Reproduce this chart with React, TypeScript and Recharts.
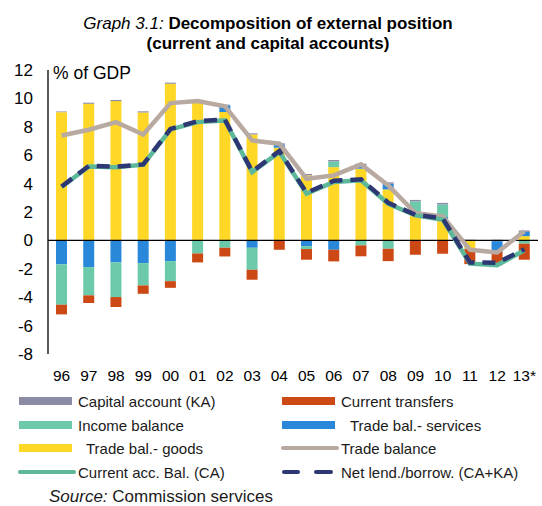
import React from "react";
import { ComposedChart, Bar, Line, XAxis, YAxis, ReferenceLine } from "recharts";

const years = ["96", "97", "98", "99", "00", "01", "02", "03", "04", "05", "06", "07", "08", "09", "10", "11", "12", "13*"];
const tradeGoods = [9.03, 9.62, 9.81, 9.01, 11.03, 9.8, 9.04, 7.46, 6.53, 4.58, 5.16, 5.05, 3.59, 1.83, 1.53, -0.58, -0.05, 0.3];
const tradeServices = [-1.69, -1.88, -1.55, -1.6, -1.46, -0.03, 0.47, -0.52, 0.23, -0.4, -0.66, 0.25, 0.4, 0.05, 0.12, -0.03, -0.75, 0.3];
const incomeBalance = [-2.84, -1.99, -2.44, -1.57, -1.41, -0.89, -0.52, -1.55, 0, -0.21, 0.4, -0.35, -0.59, 0.87, 0.89, 0, 0, -0.23];
const currentTransfers = [-0.68, -0.54, -0.7, -0.59, -0.47, -0.63, -0.61, -0.7, -0.66, -0.75, -0.82, -0.77, -0.87, -1.01, -0.94, -1.06, -0.94, -1.13];
const capitalAccount = [0.05, 0.08, 0.08, 0.08, 0.08, 0.05, 0.05, 0.08, 0.08, 0.1, 0.1, 0.1, 0.1, 0.1, 0.1, 0.05, 0.05, 0.1];
const tradeBalance = [7.39, 7.79, 8.33, 7.46, 9.67, 9.81, 9.45, 7.04, 6.81, 4.34, 4.58, 5.35, 3.87, 1.92, 1.69, -0.66, -0.85, 0.65];
const currentAccount = [3.76, 5.21, 5.16, 5.33, 7.82, 8.33, 8.45, 4.81, 6.22, 3.29, 4.11, 4.23, 2.58, 1.76, 1.46, -1.64, -1.74, -0.7];
const netLending = [3.8, 5.25, 5.2, 5.35, 7.85, 8.4, 8.5, 4.85, 6.3, 3.35, 4.2, 4.3, 2.65, 1.8, 1.55, -1.55, -1.58, -0.62];
const yTicks = [-8, -6, -4, -2, 0, 2, 4, 6, 8, 10, 12];

const data = years.map((cat, i) => ({
  cat,
  goods: tradeGoods[i],
  services: tradeServices[i],
  income: incomeBalance[i],
  transfers: currentTransfers[i],
  ka: capitalAccount[i],
  tb: tradeBalance[i],
  ca: currentAccount[i],
  nl: netLending[i],
}));

const FONT = "'Liberation Sans', Arial, sans-serif";
const C = {
  ka: "#8B8BA5",
  transfers: "#CC4814",
  income: "#6CC9AA",
  services: "#2A88DA",
  goods: "#FFD726",
  tb: "#B8AAA1",
  ca: "#5DB89A",
  nl: "#2C3774",
};

function BarIcon({ color }: { color: string }) {
  return (
    <svg width={56} height={10} style={{ display: "block" }}>
      <rect x={1} y={1} width={53} height={8} fill={color} />
    </svg>
  );
}

function LineIcon({ color, dashed }: { color: string; dashed?: boolean }) {
  return (
    <svg width={60} height={10} style={{ display: "block" }}>
      {dashed ? (
        <>
          <line x1={3} y1={5} x2={17} y2={5} stroke={color} strokeWidth={4} strokeLinecap="round" />
          <line x1={35} y1={5} x2={50} y2={5} stroke={color} strokeWidth={4} strokeLinecap="round" />
        </>
      ) : (
        <line x1={2} y1={5} x2={56} y2={5} stroke={color} strokeWidth={4} strokeLinecap="round" />
      )}
    </svg>
  );
}

function LegendItem({ x, y, icon, label, pad = 0 }: { x: number; y: number; icon: React.ReactNode; label: string; pad?: number }) {
  return (
    <div style={{ position: "absolute", left: x, top: y - 9, height: 18, display: "flex", alignItems: "center", fontSize: 15, color: "#1a1a1a" }}>
      <div style={{ width: 60 }}>{icon}</div>
      <span style={{ marginLeft: pad, whiteSpace: "nowrap" }}>{label}</span>
    </div>
  );
}

export default function App() {
  return (
    <div style={{ position: "absolute", left: 0, top: 0, width: 542, height: 506, background: "#fff", fontFamily: FONT }}>
      <div style={{ position: "absolute", left: 0, width: 536, top: 14, textAlign: "center", fontSize: 17, lineHeight: "20px", color: "#000" }}>
        <span style={{ fontStyle: "italic" }}>Graph 3.1: </span>
        <span style={{ fontWeight: "bold" }}>Decomposition of external position</span>
        <br />
        <span style={{ fontWeight: "bold" }}>(current and capital accounts)</span>
      </div>
      <div style={{ position: "absolute", left: 53, top: 63, fontSize: 17.5, color: "#000" }}>% of GDP</div>
      <ComposedChart
        width={542}
        height={506}
        data={data}
        stackOffset="sign"
        barCategoryGap={0}
        margin={{ top: 70, right: 4, left: 8, bottom: 122 }}
        style={{ position: "absolute", left: 0, top: 0 }}
      >
        <XAxis
          dataKey="cat"
          axisLine={false}
          tickLine={false}
          tickSize={0}
          tickMargin={16}
          interval={0}
          height={30}
          tick={{ fontSize: 15.5, fill: "#000", fontFamily: FONT }}
        />
        <YAxis
          domain={[-8, 12]}
          ticks={yTicks}
          width={40}
          tickLine={false}
          tickSize={0}
          tickMargin={15}
          axisLine={{ stroke: "#000", strokeWidth: 1.3 }}
          tick={{ fontSize: 17, fill: "#000", fontFamily: FONT }}
        />
        <Bar dataKey="goods" stackId="a" fill={C.goods} barSize={11} isAnimationActive={false} />
        <Bar dataKey="services" stackId="a" fill={C.services} barSize={11} isAnimationActive={false} />
        <Bar dataKey="income" stackId="a" fill={C.income} barSize={11} isAnimationActive={false} />
        <Bar dataKey="transfers" stackId="a" fill={C.transfers} barSize={11} isAnimationActive={false} />
        <Bar dataKey="ka" stackId="a" fill={C.ka} barSize={11} isAnimationActive={false} />
        <ReferenceLine y={0} stroke="#000" strokeWidth={1.3} />
        <Line type="linear" dataKey="tb" stroke={C.tb} strokeWidth={4.5} dot={false} isAnimationActive={false} />
        <Line type="linear" dataKey="ca" stroke={C.ca} strokeWidth={4.5} dot={false} isAnimationActive={false} />
        <Line type="linear" dataKey="nl" stroke={C.nl} strokeWidth={4.5} strokeDasharray="13 8" dot={false} isAnimationActive={false} />
      </ComposedChart>
      <LegendItem x={18} y={401} icon={<BarIcon color={C.ka} />} label="Capital account (KA)" />
      <LegendItem x={281} y={401} icon={<BarIcon color={C.transfers} />} label="Current transfers" />
      <LegendItem x={18} y={425} icon={<BarIcon color={C.income} />} label="Income balance" />
      <LegendItem x={281} y={425} icon={<BarIcon color={C.services} />} label="Trade bal.- services" pad={9} />
      <LegendItem x={18} y={448} icon={<BarIcon color={C.goods} />} label="Trade bal.- goods" pad={8} />
      <LegendItem x={281} y={448} icon={<LineIcon color={C.tb} />} label="Trade balance" />
      <LegendItem x={18} y={472} icon={<LineIcon color={C.ca} />} label="Current acc. Bal. (CA)" />
      <LegendItem x={281} y={472} icon={<LineIcon color={C.nl} dashed />} label="Net lend./borrow. (CA+KA)" />
      <div style={{ position: "absolute", left: 49, top: 487, fontSize: 17, color: "#1a1a1a" }}>
        <span style={{ fontStyle: "italic" }}>Source:</span> Commission services
      </div>
    </div>
  );
}
